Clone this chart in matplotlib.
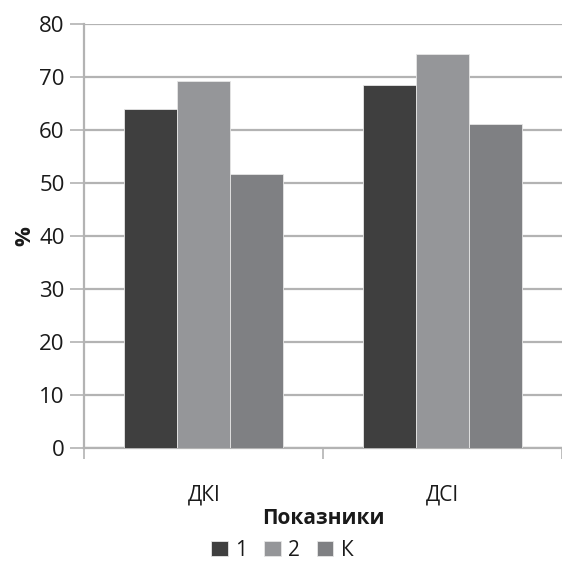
import matplotlib.pyplot as plt
import numpy as np

plt.rcParams['font.family'] = ['Open Sans', 'DejaVu Sans']

categories = ['ДКІ', 'ДСІ']
series_names = ['1', '2', 'К']
values_1 = [63.9, 68.5]
values_2 = [69.2, 74.3]
values_k = [51.6, 61.1]
colors = ['#3f3f3f', '#959699', '#7f8083']


def main():
    fig = plt.figure(figsize=(5.62, 5.70), dpi=100)
    ax = fig.add_axes([0.1495, 0.214, 0.8505, 0.744])

    x = np.arange(len(categories))
    width = 0.222
    for i, (name, vals) in enumerate(zip(series_names, [values_1, values_2, values_k])):
        ax.bar(x + (i - 1) * width, vals, width, color=colors[i], label=name,
               edgecolor='#e6e6e6', linewidth=0.6, zorder=3)

    ax.set_ylim(0, 80)
    ax.set_xlim(-0.502, 1.473)
    ax.set_yticks(range(0, 81, 10))
    ax.yaxis.grid(True, color='#b3b3b3', linewidth=1.6, zorder=0)

    # category boundaries get tick marks, names sit in between
    ax.set_xticks([-0.5, 0.5, 1.5])
    ax.set_xticklabels([])
    ax.set_xticks(x, minor=True)
    ax.set_xticklabels(categories, minor=True)
    ax.tick_params(axis='x', which='major', length=8, width=1.2, color='#b3b3b3', direction='out')
    ax.tick_params(axis='x', which='minor', length=0, pad=26, labelsize=15, labelcolor='#1a1a1a')
    ax.tick_params(axis='y', length=10, width=1.2, color='#b3b3b3', labelsize=16,
                   labelcolor='#1a1a1a', pad=4)

    for side in ['top', 'right']:
        ax.spines[side].set_visible(False)
    for side in ['left', 'bottom']:
        ax.spines[side].set_color('#b3b3b3')
        ax.spines[side].set_linewidth(1.6)

    ax.set_ylabel('%', fontsize=16, fontweight='bold', labelpad=3, color='#1a1a1a')
    ax.set_xlabel('Показники', fontsize=15, fontweight='bold', labelpad=2, color='#1a1a1a')

    ax.legend(loc='upper center', bbox_to_anchor=(0.415, -0.172), ncol=3, frameon=False,
              fontsize=15, handlelength=0.8, handleheight=0.8, handletextpad=0.35,
              columnspacing=0.8, labelcolor='#1a1a1a')

    fig.savefig('out.png', dpi=100)


if __name__ == '__main__':
    main()
